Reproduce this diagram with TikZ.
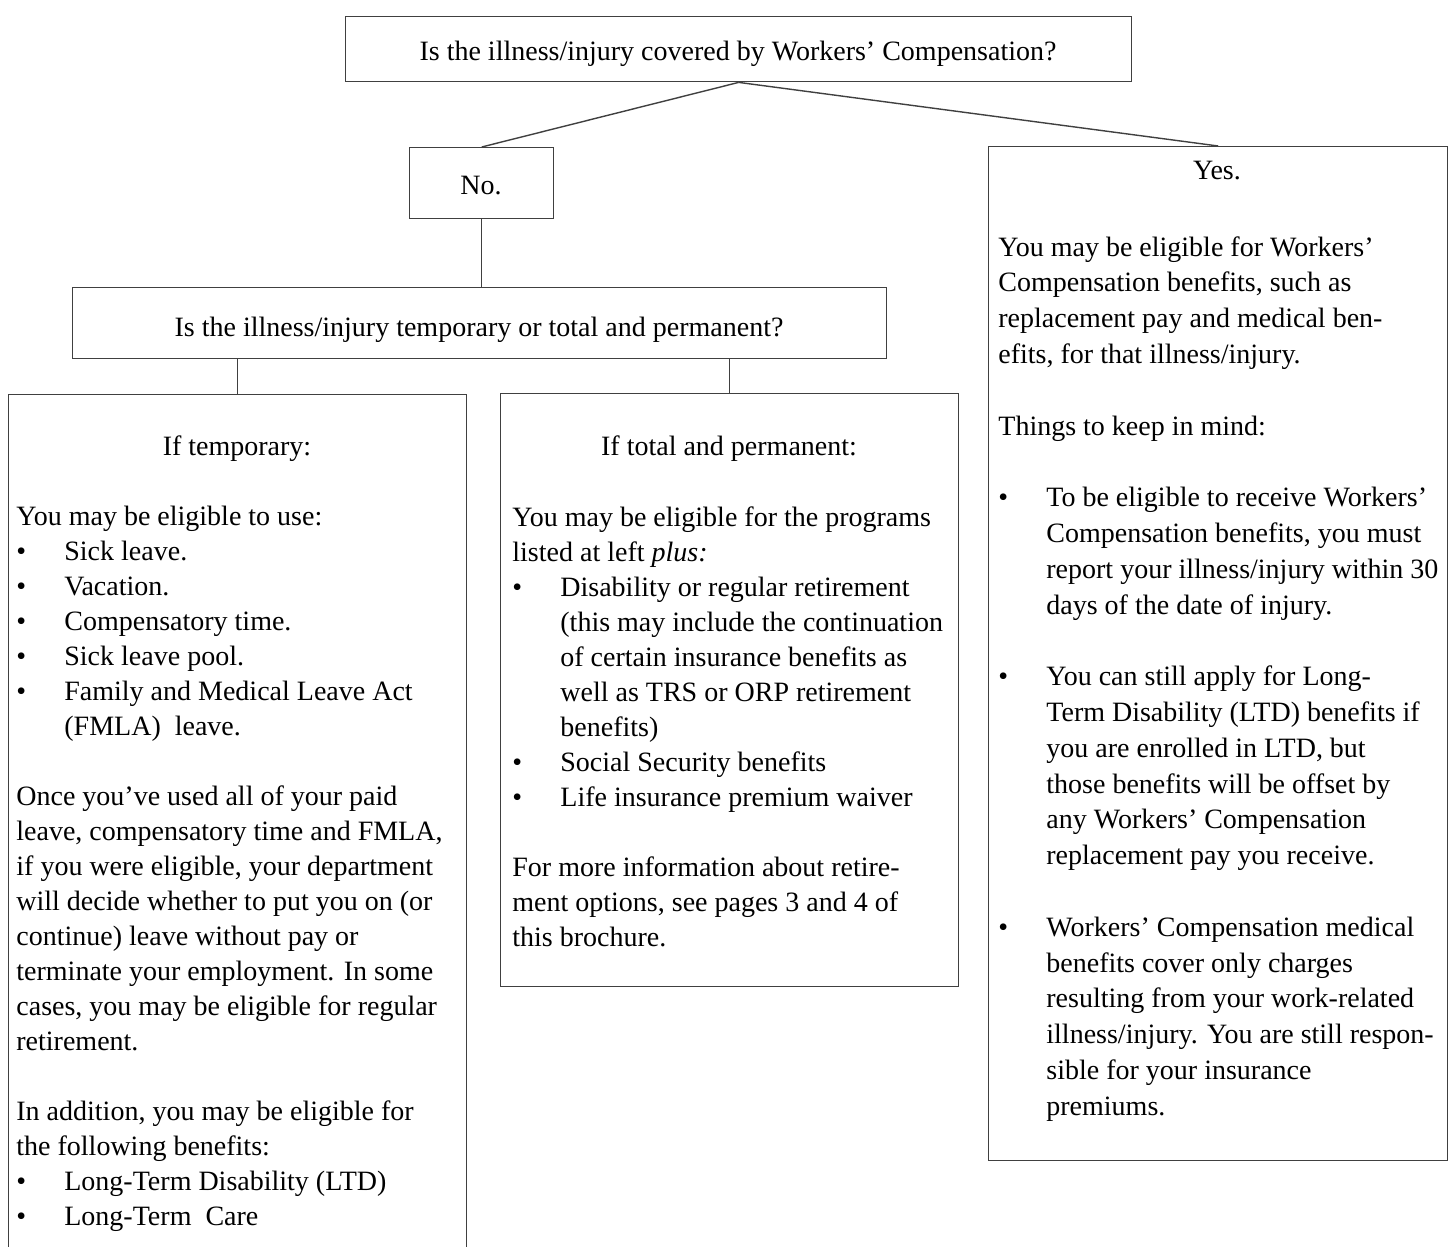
\documentclass[tikz,border=0pt]{standalone}
\usepackage{fontspec}
\setmainfont{Liberation Serif}
\usetikzlibrary{positioning,calc}
\tikzset{
  box/.style={draw=black!75,line width=0.7pt,inner sep=0pt,anchor=north west},
  wire/.style={draw=black!75,line width=0.7pt},
  txt/.style={inner sep=0pt,align=left,anchor=north west,font=\fontsize{14}{17.5}\selectfont},
  head/.style={inner sep=0pt,anchor=base,font=\fontsize{14}{17.5}\selectfont}
}
\newcommand{\bul}{\makebox[24pt][l]{\textbullet}}
\newcommand{\ind}{\hspace*{24pt}}
\begin{document}
\begin{tikzpicture}[x=0.5pt,y=-0.5pt]
\useasboundingbox (0,0) rectangle (1452,1247);
\clip (0,0) rectangle (1452,1247);
% boxes
\node[box,minimum width=393pt,minimum height=32.5pt] (wc) at (345,16) {};
\node[box,minimum width=72pt,minimum height=35.5pt] (no) at (409,147) {};
\node[box,minimum width=229.5pt,minimum height=507pt] (yes) at (988,146) {};
\node[box,minimum width=407pt,minimum height=35.5pt] (q) at (72,287) {};
\node[box,minimum width=229pt,minimum height=450pt] (temp) at (8,394) {};
\node[box,minimum width=229pt,minimum height=296.5pt] (total) at (500,393) {};
% connectors
\draw[wire] (wc.south)--(no.north);
\draw[wire] (wc.south)--(yes.north);
\draw[wire] (no.south)--(no.south|-q.north);
\draw[wire] (temp.north)--(temp.north|-q.south);
\draw[wire] (total.north)--(total.north|-q.south);
% headings
\node[head] (wctxt) at (738,61) {Is the illness/injury covered by Workers’ Compensation?};
\node[head] (notxt) at (481,194) {No.};
\node[head] (qtxt) at (479,336) {Is the illness/injury temporary or total and permanent?};
\node[head] (yeshead) at (1217,180) {Yes.};
\node[head] (temphead) at (237,455) {If temporary:};
\node[head] (totalhead) at (729,455) {If total and permanent:};
% texts
\node[txt] (temptxt) at (16,506) {You may be eligible to use:\\
\bul Sick leave.\\
\bul Vacation.\\
\bul Compensatory time.\\
\bul Sick leave pool.\\
\bul Family and Medical Leave Act\\
\ind (FMLA)\ \ leave.\\[17.5pt]
Once you’ve used all of your paid\\
leave, compensatory time and FMLA,\\
if you were eligible, your department\\
will decide whether to put you on (or\\
continue) leave without pay or\\
terminate your employment. In some\\
cases, you may be eligible for regular\\
retirement.\\[17.5pt]
In addition, you may be eligible for\\
the following benefits:\\
\bul Long-Term Disability (LTD)\\
\bul Long-Term\ \ Care};
\node[txt] (totaltxt) at (512,506) {You may be eligible for the programs\\
listed at left \textit{plus:}\\
\bul Disability or regular retirement\\
\ind (this may include the continuation\\
\ind of certain insurance benefits as\\
\ind well as TRS or ORP retirement\\
\ind benefits)\\
\bul Social Security benefits\\
\bul Life insurance premium waiver\\[17.5pt]
For more information about retire-\\
ment options, see pages 3 and 4 of\\
this brochure.};
\node[txt,font=\fontsize{14}{17.9}\selectfont] (yestxt) at (998,236) {You may be eligible for Workers’\\
Compensation benefits, such as\\
replacement pay and medical ben-\\
efits, for that illness/injury.\\[17.9pt]
Things to keep in mind:\\[17.9pt]
\bul To be eligible to receive Workers’\\
\ind Compensation benefits, you must\\
\ind report your illness/injury within 30\\
\ind days of the date of injury.\\[17.9pt]
\bul You can still apply for Long-\\
\ind Term Disability (LTD) benefits if\\
\ind you are enrolled in LTD, but\\
\ind those benefits will be offset by\\
\ind any Workers’ Compensation\\
\ind replacement pay you receive.\\[17.9pt]
\bul Workers’ Compensation medical\\
\ind benefits cover only charges\\
\ind resulting from your work-related\\
\ind illness/injury. You are still respon-\\
\ind sible for your insurance\\
\ind premiums.};
\end{tikzpicture}
\end{document}
